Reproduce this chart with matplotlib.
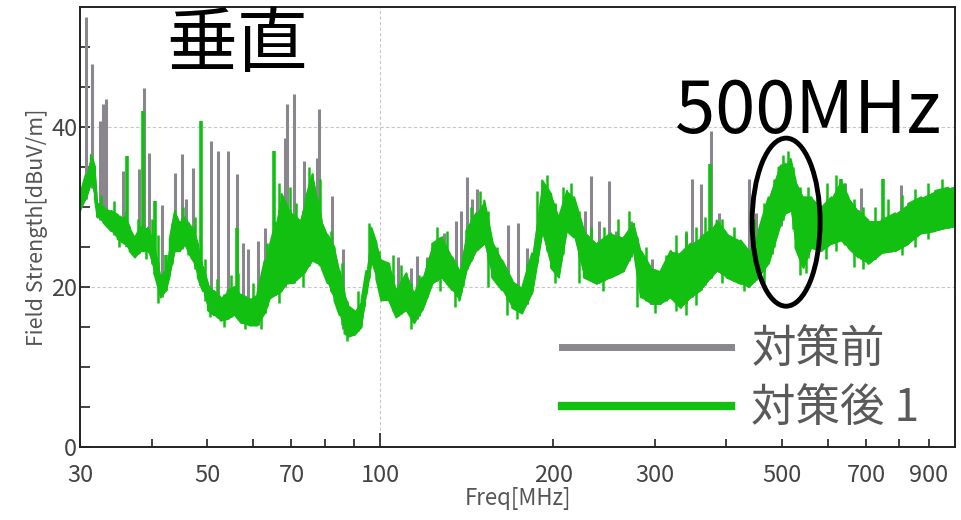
import numpy as np
import matplotlib
matplotlib.use("Agg")
import matplotlib.pyplot as plt
from matplotlib.lines import Line2D
from matplotlib.patches import Ellipse
from matplotlib.ticker import FixedLocator, FixedFormatter

plt.rcParams['font.family'] = ['Noto Sans CJK JP', 'DejaVu Sans']

# Measured spectrum after countermeasure 1: band envelope (MHz, dBuV/m)
freq = [30.0, 30.7, 31.35, 31.85, 32.2, 33.0, 34.0, 34.9, 35.9, 36.6, 37.4, 38.3,
        39.4, 40.5, 41.5, 42.3, 43.0, 43.9, 44.8, 45.7, 47.0, 48.1, 49.1, 50.1,
        51.3, 52.7, 54.2, 55.8, 57.3, 59.2, 61.1, 62.9, 64.1, 65.7, 67.3, 68.9,
        70.6, 72.3, 74.1, 76.2, 77.7, 79.0, 80.9, 83.2, 84.9, 86.6, 88.3, 90.1,
        92.7, 94.5, 96.4, 98.4, 100.4, 103.6, 106.6, 111.0, 114.6, 118.3, 123.1,
        128.1, 133.4, 137.2, 141.1, 146.8, 151.6, 156.5, 162.9, 169.6, 176.5,
        183.7, 191.2, 198.2, 204.6, 211.3, 217.3, 226.1, 238.2, 251.9, 265.4,
        276.2, 284.1, 295.6, 307.6, 320.2, 333.2, 346.8, 361.0, 374.2, 384.8,
        400.5, 423.6, 437.4, 455.2, 473.8, 493.1, 507.1, 517.4, 527.8, 545.0,
        562.7, 585.7, 609.6, 632.0, 652.5, 679.1, 706.9, 744.6, 787.4, 829.4,
        873.7, 924.0, 973.3, 1000.0]
after_hi = [31.5, 34.0, 36.5, 35.0, 30.4, 30.0, 29.5, 29.0, 28.7, 27.5, 26.2, 27.5,
            27.4, 25.0, 21.2, 22.0, 26.0, 29.5, 28.0, 28.7, 27.5, 25.4, 22.5, 20.4,
            19.5, 18.7, 19.5, 20.0, 19.0, 18.5, 19.2, 23.3, 25.0, 28.0, 31.6, 30.0,
            29.0, 28.3, 31.0, 34.1, 31.0, 28.3, 26.5, 24.9, 22.0, 19.2, 17.5, 17.0,
            18.3, 22.0, 27.4, 25.5, 23.3, 22.9, 19.6, 21.7, 19.2, 21.2, 25.4,
            26.2, 23.7, 22.0, 27.0, 29.2, 30.8, 25.8, 23.3, 20.8, 19.9,
            24.2, 33.3, 31.6, 28.7, 32.0, 31.2, 27.0, 25.4, 26.7, 26.2,
            27.9, 24.5, 22.4, 22.0, 24.5, 24.2, 25.4, 26.2, 27.0, 28.3,
            26.7, 25.8, 24.5, 27.0, 31.2, 34.9, 35.4, 36.0, 33.3, 31.2,
            31.2, 29.9, 31.2, 33.3, 31.2, 29.5, 28.3, 28.3, 29.2, 30.4,
            31.2, 32.0, 32.4, 32.6]
after_lo = [29.5, 31.0, 33.0, 31.0, 28.7, 28.0, 27.0, 26.0, 25.4, 24.5, 23.7, 24.5,
            24.5, 21.5, 18.7, 19.5, 21.5, 24.5, 24.5, 25.4, 23.5, 21.2, 19.5, 17.1,
            16.5, 15.8, 16.0, 16.5, 15.5, 15.2, 15.2, 16.7, 18.5, 19.0, 19.5, 20.5,
            20.5, 21.2, 22.0, 23.3, 23.0, 22.4, 20.5, 18.3, 16.5, 14.2, 13.8, 14.0,
            15.0, 19.0, 23.0, 21.0, 18.3, 18.3, 16.2, 17.1, 15.5, 17.1, 20.4,
            21.2, 19.6, 18.3, 22.0, 24.5, 25.4, 21.2, 19.6, 17.4, 16.7,
            19.2, 26.7, 22.4, 21.2, 27.0, 26.2, 21.2, 20.4, 21.2, 22.0,
            24.5, 18.7, 17.9, 17.9, 18.7, 17.4, 18.7, 19.6, 21.0, 22.0,
            21.2, 20.4, 20.0, 21.2, 22.9, 27.0, 29.2, 29.5, 24.9, 22.4,
            24.9, 24.5, 25.4, 25.8, 24.9, 23.7, 22.9, 24.2, 24.5, 25.4,
            26.7, 27.0, 27.4, 27.6]

# Small peaks above and dips below the band of the "after" trace
after_jag_f = [32.6, 34.4, 36.0, 37.9, 40.0, 41.0, 43.4, 45.3, 47.6, 49.6, 51.9,
               55.0, 56.6, 60.1, 63.5, 66.5, 69.7, 71.4, 75.2, 78.4, 82.0, 85.8,
               91.4, 95.5, 99.4, 105.0, 108.8, 116.5, 120.7, 125.6, 130.7, 139.1,
               144.0, 149.2, 154.0, 159.7, 166.2, 180.0, 187.5, 194.7, 201.4,
               208.0, 214.3, 221.7, 232.1, 245.0, 258.6, 270.8, 290.0, 313.9,
               326.7, 340.0, 354.0, 367.6, 392.6, 412.0, 446.2, 464.5, 483.4,
               502.0, 512.0, 522.6, 536.3, 553.8, 574.2, 597.6, 621.0, 642.0,
               666.0, 693.0, 725.0, 766.0, 808.0, 851.0, 898.0, 948.0]
after_jag_v = [31.5, 30.8, 29.5, 28.5, 28.5, 26.5, 28.0, 30.0, 28.8, 23.5, 21.0,
               21.5, 21.8, 20.5, 25.5, 33.0, 32.5, 30.5, 35.0, 33.5, 27.0, 23.0,
               19.5, 28.0, 24.5, 24.0, 22.8, 21.5, 23.5, 27.5, 27.0, 24.0,
               30.0, 32.0, 29.5, 25.0, 22.0, 23.0, 32.0, 34.0, 30.5,
               32.5, 33.0, 29.5, 27.5, 27.5, 28.5, 29.5, 25.0, 24.0,
               26.5, 27.0, 27.5, 28.8, 28.5, 27.5, 28.5, 30.5, 33.5,
               36.5, 37.0, 35.0, 32.5, 32.5, 31.5, 33.0, 34.0, 33.0,
               31.0, 30.0, 30.0, 31.0, 31.5, 32.2, 33.0, 33.5]
after_dip_f = [35.0, 39.0, 41.0, 46.3, 50.6, 53.5, 58.2, 62.0, 66.5, 73.2, 81.9,
               87.5, 93.6, 105.0, 112.8, 127.0, 135.0, 154.0, 166.2, 172.8, 201.0,
               222.0, 244.0, 280.0, 300.0, 326.7, 340.0, 354.0, 392.6, 430.0,
               465.0, 537.0, 550.0, 597.0, 620.0, 666.0, 693.0, 725.0, 808.0,
               851.0, 898.0]
after_dip_v = [25.0, 23.5, 18.0, 24.0, 16.3, 15.0, 14.8, 14.8, 18.0, 20.0, 19.5,
               13.3, 17.5, 17.0, 14.8, 19.5, 17.5, 20.0, 16.5, 16.0, 20.5,
               20.5, 19.5, 17.5, 16.8, 17.0, 16.5, 17.8, 20.5, 19.5,
               20.5, 21.5, 21.8, 23.5, 24.5, 22.5, 22.2, 23.5, 24.0,
               25.0, 26.0]

# Narrow emissions that rise above the band
after_spike_f = [36.2, 38.6, 40.5, 42.3, 48.7, 56.2, 65.2, 374.2, 634.5, 750.5]
after_spike_v = [36.4, 42.0, 30.8, 24.0, 40.7, 27.4, 37.0, 35.4, 33.5, 33.5]

before_spike_f = [30.7, 31.5, 32.5, 32.9, 33.3, 35.6, 38.0, 38.75, 39.5, 41.6,
                  43.9, 45.1, 45.8, 47.1, 50.7, 52.1, 54.2, 56.2, 57.6, 58.7,
                  61.1, 62.9, 68.1, 68.7, 70.6, 73.5, 77.4, 78.3, 82.2, 86.2,
                  107.4, 113.2, 115.9, 120.7, 126.6, 129.2, 135.5, 138.3, 141.6,
                  144.5, 147.4, 166.9, 173.7, 180.0, 227.1, 232.6, 240.1, 249.9,
                  257.0, 272.9, 296.8, 340.0, 348.2, 361.0, 375.7, 387.9, 437.4,
                  449.8, 479.5, 497.1, 644.7, 687.3, 775.0, 806.5]
before_spike_v = [53.8, 47.9, 40.7, 42.9, 43.5, 34.5, 34.8, 44.9, 36.8, 30.2,
                  34.3, 36.6, 31.0, 34.9, 38.3, 37.0, 37.0, 34.1, 25.5, 24.7,
                  25.8, 27.4, 38.6, 42.9, 44.1, 35.8, 36.1, 42.2, 31.4, 24.8,
                  23.7, 22.4, 23.9, 23.7, 26.2, 26.7, 28.3, 29.5, 33.7,
                  31.0, 32.3, 27.7, 28.0, 24.9, 29.5, 33.9, 28.3, 33.3,
                  27.0, 28.3, 23.5, 26.7, 33.5, 32.9, 39.5, 29.3, 33.5,
                  29.2, 32.0, 35.4, 33.0, 32.4, 29.0, 32.7]

x_labels = [30, 50, 70, 200, 300, 500, 700, 900]
x_minor = [40, 60, 80, 90, 400, 600, 800]

GRAY = '#8a868e'
GREEN = '#12c012'

fig = plt.figure(figsize=(9.62, 5.2), dpi=100)
ax = fig.add_axes([0.0832, 0.1404, 0.9095, 0.8461])

freq_a = np.array(freq)
lo_a = np.array(after_lo)
hi_a = np.array(after_hi)

# before: band (mostly hidden under the green trace) plus spikes
ax.fill_between(freq_a, lo_a, hi_a, color=GRAY, lw=0, zorder=1.0)
base_b = np.interp(before_spike_f, freq_a, lo_a)
ax.vlines(before_spike_f, base_b, before_spike_v, color=GRAY, lw=2.2, zorder=1.5)

# after countermeasure: filled band with ragged zigzag trace
ax.fill_between(freq_a, lo_a, hi_a, color=GREEN, lw=0, zorder=2.0)
zx, zy = [], []
for i, f in enumerate(freq_a):
    pair = (lo_a[i], hi_a[i]) if i % 2 == 0 else (hi_a[i], lo_a[i])
    zx += [f, f]
    zy += list(pair)
ax.plot(zx, zy, color=GREEN, lw=1.6, zorder=2.1)
ax.vlines(after_jag_f, np.interp(after_jag_f, freq_a, lo_a), after_jag_v,
          color=GREEN, lw=1.8, zorder=2.2)
ax.vlines(after_dip_f, np.interp(after_dip_f, freq_a, hi_a), after_dip_v,
          color=GREEN, lw=1.8, zorder=2.2)
ax.vlines(after_spike_f, np.interp(after_spike_f, freq_a, lo_a), after_spike_v,
          color=GREEN, lw=2.6, zorder=2.3)

ax.set_xscale('log')
ax.set_xlim(30, 1000)
ax.set_ylim(0, 55)

ax.xaxis.set_major_locator(FixedLocator([100]))
ax.xaxis.set_major_formatter(FixedFormatter(['100']))
ax.xaxis.set_minor_locator(FixedLocator(x_labels + x_minor))
ax.xaxis.set_minor_formatter(FixedFormatter([str(v) for v in x_labels] + [''] * len(x_minor)))
ax.yaxis.set_major_locator(FixedLocator([0, 20, 40]))
ax.yaxis.set_minor_locator(FixedLocator([5, 10, 15, 25, 30, 35, 45, 50]))

ax.tick_params(which='both', direction='in', colors='#222', labelcolor='#444',
               labelsize=17, width=1.2)
ax.tick_params(axis='x', which='major', length=10, pad=12)
ax.tick_params(axis='x', which='minor', length=6, pad=12)
ax.tick_params(axis='y', which='both', length=7, pad=2)

ax.grid(True, which='major', color='#c8c8c8', ls=(0, (3, 2)), lw=0.8)
ax.set_axisbelow(True)
for s in ax.spines.values():
    s.set_color('#222')
    s.set_linewidth(1.4)

ax.set_xlabel('Freq[MHz]', fontsize=16, color='#555', labelpad=0)
ax.set_ylabel('Field Strength[dBuV/m]', fontsize=15.5, color='#555', labelpad=2)

handles = [Line2D([], [], color=GRAY, lw=5), Line2D([], [], color=GREEN, lw=6)]
leg = ax.legend(handles, ['対策前', '対策後 1'], loc='lower right',
                bbox_to_anchor=(0.995, -0.035), frameon=False, fontsize=32,
                handlelength=3.8, handletextpad=0.45, labelspacing=0.29,
                borderpad=0.2)
for t in leg.get_texts():
    t.set_color('#5a5a5a')

fig.text(0.246, 0.912, '垂直', fontsize=51, ha='center', va='center', color='black')
fig.text(0.840, 0.783, '500MHz', fontsize=52, ha='center', va='center', color='black')

ax.add_patch(Ellipse((0.807, 0.511), 0.0777, 0.382, transform=ax.transAxes,
                     fill=False, ec='black', lw=3.5, zorder=5))

fig.savefig('out.png', dpi=100)
